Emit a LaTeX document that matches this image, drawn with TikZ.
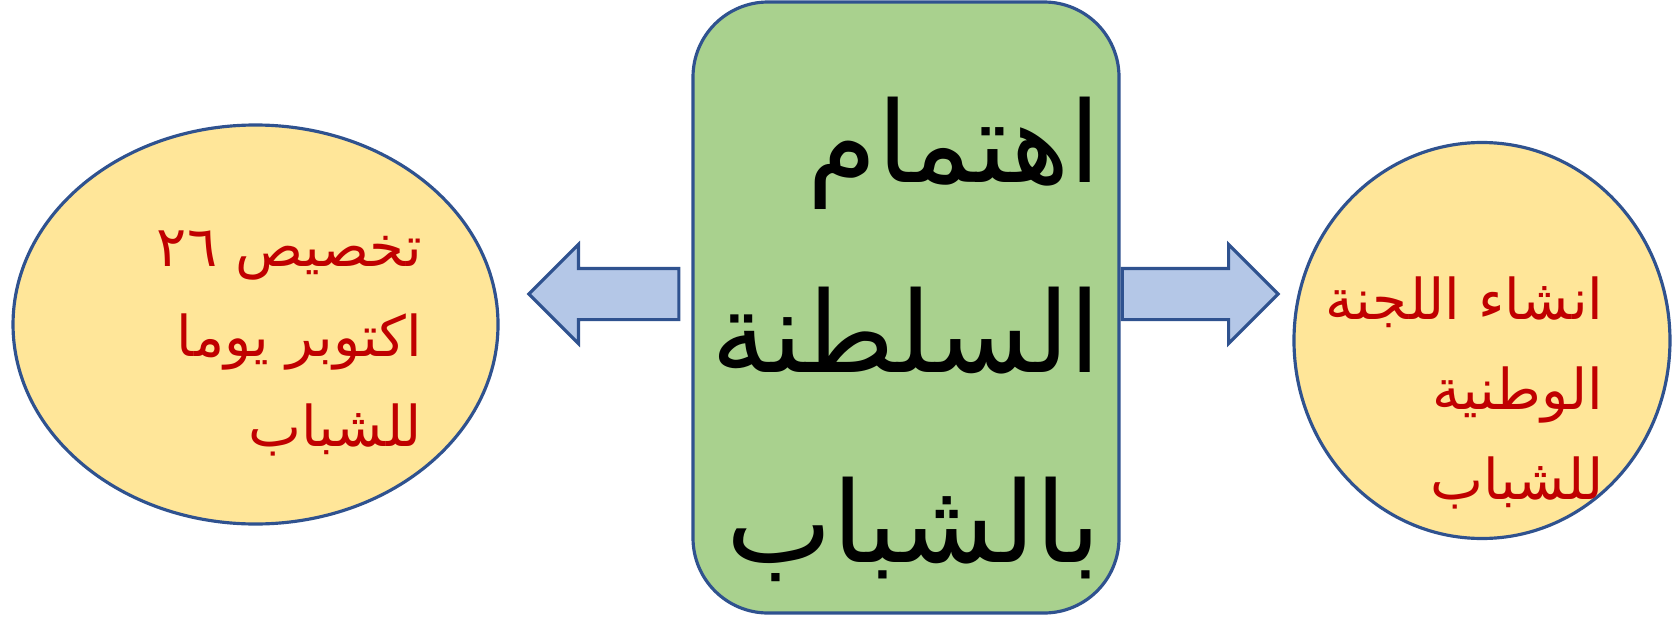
\documentclass[tikz,border=0pt]{standalone}
\usepackage{fontspec}
\newfontfamily\arabicfont[Script=Arabic]{DejaVu Sans}
\TeXXeTstate=1
\usetikzlibrary{positioning,shapes.geometric,shapes.arrows}
\definecolor{themegreen}{HTML}{A9D18E}
\definecolor{bubbleyellow}{HTML}{FFE699}
\definecolor{arrowblue}{HTML}{B4C7E7}
\definecolor{edgeblue}{HTML}{2F528F}
\definecolor{textred}{HTML}{C00000}
\tikzset{
themebox/.style={
    rectangle,
    rounded corners=7.5mm,
    minimum width=42.6mm,
    minimum height=61.1mm,
    inner sep=0pt,
    draw=edgeblue,
    fill=themegreen,
    line width=0.9pt
},
bubble/.style={
    ellipse,
    inner sep=0pt,
    draw=edgeblue,
    fill=bubbleyellow,
    line width=0.9pt
},
blockarrow/.style={
    single arrow,
    single arrow head extend=2.4mm,
    single arrow tip angle=90,
    minimum width=9.6mm,
    inner xsep=0pt,
    inner ysep=2.4mm,
    draw=edgeblue,
    fill=arrowblue,
    line width=0.9pt
},
themetext/.style={
    align=right,
    inner sep=0pt,
    font=\arabicfont\fontsize{32}{54}\selectfont
},
bubbletext/.style={
    align=right,
    inner sep=0pt,
    text=textred,
    font=\arabicfont\fontsize{16}{25.6}\selectfont
},
}

\begin{document}
\begin{tikzpicture}

\useasboundingbox (0,0) rectangle (16.77,6.17);

\node [themebox] (box) at (9.06,3.095) {};
\node [themetext,anchor=east] (box-text) at ([xshift=-1.9mm,yshift=-3.2mm]box.east)
    {\beginR اهتمام\endR\\\beginR السلطنة\endR\\\beginR بالشباب\endR};
%
\node [blockarrow,shape border rotate=180,minimum height=15mm,anchor=tail] (arrowL)
    at ([shift={(-1.1mm,1.35mm)}]box.west) {};
\node [blockarrow,minimum height=15.6mm,anchor=tail] (arrowR)
    at ([yshift=1.35mm]box.east) {};
%
\node [bubble,minimum width=48.5mm,minimum height=39.9mm,left=2.7mm of arrowL.tip,yshift=-3.05mm] (bubbleL) {};
\node [bubbletext,anchor=east] (bubbleL-text) at ([shift={(1.67,-0.185)}]bubbleL.center)
    {\beginR تخصيص \beginL ٢٦\endL\endR\\\beginR اكتوبر يوما\endR\\\beginR للشباب\endR};
%
\node [bubble,minimum width=37.6mm,minimum height=39.6mm,right=1.2mm of arrowR.tip,yshift=-4.65mm] (bubbleR) {};
\node [bubbletext,anchor=east] (bubbleR-text) at ([shift={(1.22,-0.525)}]bubbleR.center)
    {\beginR انشاء اللجنة\endR\\\beginR الوطنية\endR\\\beginR للشباب\endR};

\end{tikzpicture}
\end{document}
